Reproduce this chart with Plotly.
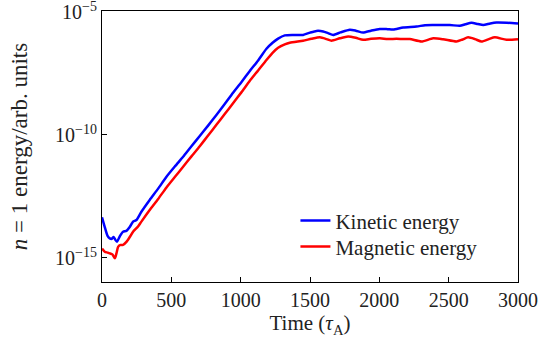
import plotly.graph_objects as go

t_kin = [0, 20, 40, 56, 70, 84, 95, 108, 130, 152, 176, 200, 224, 248, 284, 344, 405, 465, 525, 585,
         645, 705, 765, 825, 885, 945, 1005, 1066, 1126, 1186, 1230, 1270, 1318, 1380, 1450, 1500,
         1547, 1595, 1630, 1667, 1720, 1787, 1830, 1883, 1940, 2003, 2060, 2100, 2172, 2268, 2330,
         2388, 2508, 2580, 2620, 2665, 2710, 2749, 2800, 2845, 2920, 3000]
e_kin = [4.5e-14, 1.8e-14, 7.9e-15, 6.3e-15, 6.0e-15, 7.2e-15, 5.6e-15, 4.6e-15, 7.9e-15, 1.17e-14,
         1.26e-14, 1.8e-14, 3.0e-14, 3.5e-14, 7.6e-14, 2.3e-13, 6.6e-13, 2.0e-12, 5.2e-12, 1.3e-11,
         3.5e-11, 9.1e-11, 2.4e-10, 6.5e-10, 1.8e-9, 5.2e-9, 1.4e-8, 4.0e-8, 1.07e-7, 3.2e-7,
         5.6e-7, 8.3e-7, 1.12e-6, 1.17e-6, 1.17e-6, 1.45e-6, 1.7e-6, 1.62e-6, 1.38e-6, 1.17e-6,
         1.48e-6, 1.9e-6, 1.74e-6, 1.45e-6, 1.74e-6, 2.04e-6, 2.0e-6, 1.95e-6, 2.34e-6, 2.57e-6,
         2.9e-6, 2.95e-6, 2.95e-6, 2.75e-6, 3.16e-6, 3.63e-6, 3.24e-6, 2.95e-6, 3.4e-6, 3.7e-6,
         3.63e-6, 3.4e-6]

t_mag = [0, 20, 40, 56, 75, 93, 105, 117, 135, 152, 176, 200, 224, 260, 284, 344, 405, 465, 525, 585,
         645, 705, 765, 825, 885, 945, 1005, 1066, 1126, 1186, 1230, 1270, 1318, 1354, 1450, 1510,
         1571, 1620, 1655, 1715, 1775, 1830, 1883, 1940, 2003, 2060, 2124, 2172, 2220, 2304, 2388,
         2460, 2556, 2600, 2640, 2690, 2737, 2790, 2833, 2917, 3000]
e_mag = [2.4e-15, 1.8e-15, 1.66e-15, 1.55e-15, 1.4e-15, 9.8e-16, 1.6e-15, 2.9e-15, 3.4e-15, 3.4e-15,
         4.5e-15, 7.1e-15, 1.17e-14, 1.9e-14, 3.0e-14, 8.9e-14, 2.5e-13, 7.4e-13, 1.95e-12, 5.1e-12,
         1.35e-11, 3.5e-11, 9.5e-11, 2.6e-10, 7.1e-10, 1.95e-9, 5.4e-9, 1.6e-8, 4.2e-8, 1.12e-7,
         2.2e-7, 3.5e-7, 4.8e-7, 5.6e-7, 6.8e-7, 8.1e-7, 9.3e-7, 7.9e-7, 6.8e-7, 8.5e-7,
         1.0e-6, 8.9e-7, 7.4e-7, 8.1e-7, 8.5e-7, 7.9e-7, 8.1e-7, 7.9e-7, 7.9e-7, 6.3e-7,
         8.5e-7, 7.8e-7, 6.3e-7, 7.6e-7, 9.3e-7, 7.9e-7, 6.3e-7, 7.9e-7, 9.3e-7, 7.4e-7, 7.8e-7]

x_ticks = [0, 500, 1000, 1500, 2000, 2500, 3000]
y_ticks = [1e-15, 1e-10, 1e-5]
y_tick_text = ["10<sup>−15</sup>", "10<sup>−10</sup>", "10<sup>−5</sup>"]

FONT = "Liberation Serif"
TXT = "#222"

fig = go.Figure()
fig.add_trace(go.Scatter(x=t_kin, y=e_kin, mode="lines", name="Kinetic energy", legend="legend",
                         line=dict(color="#0000ff", width=2.5, shape="spline", smoothing=0.6)))
fig.add_trace(go.Scatter(x=t_mag, y=e_mag, mode="lines", name="Magnetic energy", legend="legend2",
                         line=dict(color="#ff0000", width=2.5, shape="spline", smoothing=0.6)))

axis_common = dict(showgrid=False, zeroline=False, showline=True, linecolor="black", linewidth=1.2,
                   mirror=True, ticks="inside", ticklen=5, tickwidth=1, tickcolor="black",
                   automargin=False, ticklabeloverflow="allow",
                   tickfont=dict(family=FONT, size=20, color=TXT))

fig.update_xaxes(range=[0, 3000], tickvals=x_ticks,
                 title=dict(text="Time (<i>τ</i><sub>A</sub>)", font=dict(family=FONT, size=21, color=TXT),
                            standoff=4),
                 **axis_common)
fig.update_yaxes(type="log", range=[-15.976, -4.96], tickvals=y_ticks, ticktext=y_tick_text,
                 title=dict(text="<i>n</i> = 1 energy/arb. units", font=dict(family=FONT, size=23, color=TXT),
                            standoff=20),
                 **axis_common)

leg_common = dict(xanchor="left", yanchor="top", bgcolor="rgba(0,0,0,0)",
                  font=dict(family=FONT, size=21, color=TXT))

fig.update_layout(
    width=549, height=338,
    margin=dict(l=102, r=31, t=11, b=56),
    paper_bgcolor="white", plot_bgcolor="white",
    showlegend=True,
    legend=dict(x=0.465, y=0.301, **leg_common),
    legend2=dict(x=0.465, y=0.205, **leg_common),
)

fig.write_html("out.html", config={"displayModeBar": False},
               post_script="document.body.style.margin='0';document.body.style.padding='0';"
                           "document.body.style.overflow='hidden';")
